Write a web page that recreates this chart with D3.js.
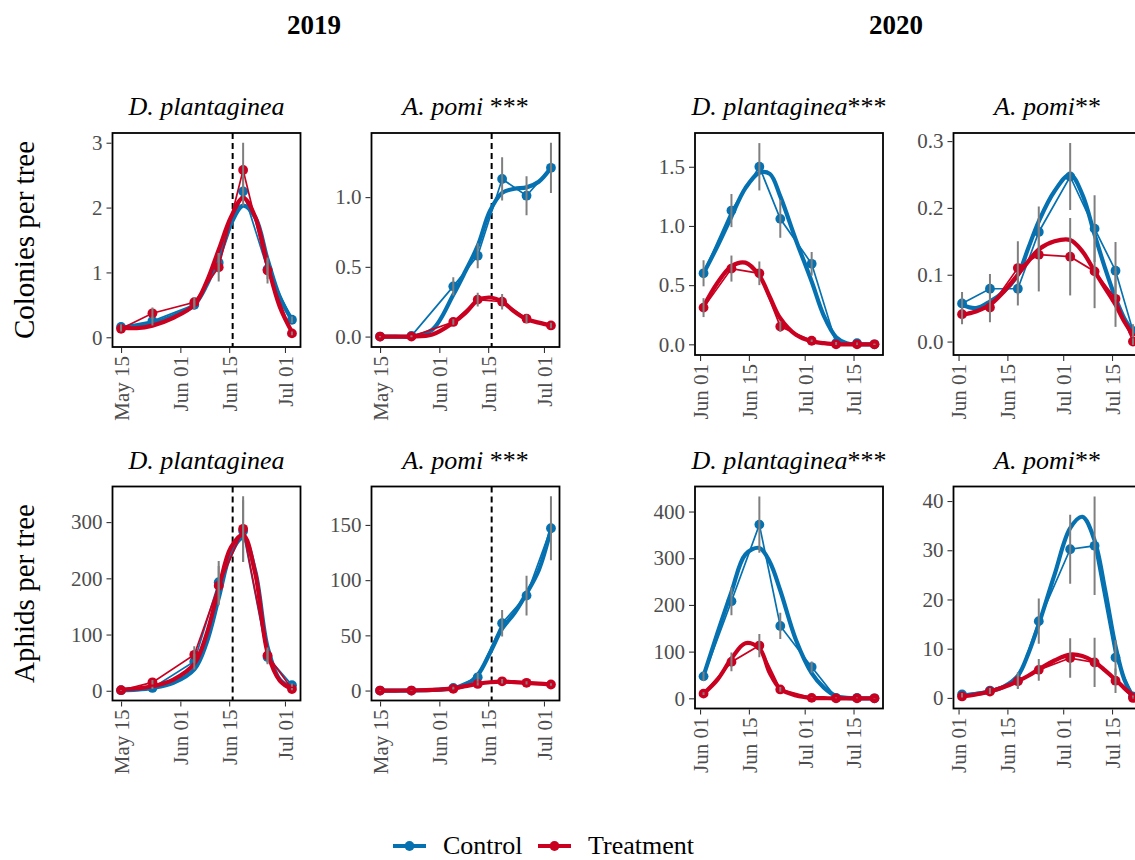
<!DOCTYPE html>
<meta charset="utf-8">
<title>Aphid colonies and aphids per tree, 2019–2020</title>
<style>
  html, body { margin: 0; background: #fff; }
  svg {
    display: block;
    font-family: 'Liberation Serif', 'Times New Roman', serif;
  }
  .axis text {
    fill: #4d4d4d;
    font-size: 21px;
    font-family: 'Liberation Serif', 'Times New Roman', serif;
  }
  .axis line { stroke: #333; stroke-width: 1.1px; }
  .axis .domain { display: none; }
  .frame { fill: none; stroke: #000; stroke-width: 1.8px; }
  .fit { fill: none; stroke-width: 4.2px; stroke-linecap: round; }
  .trace { fill: none; stroke-width: 1.7px; }
  .err { stroke: #7f7f7f; stroke-width: 2px; }
  .cut { stroke: #000; stroke-width: 2px; stroke-dasharray: 6 4; }
  .strip { font-size: 26px; text-anchor: middle; }
  .ytitle { font-size: 29px; text-anchor: middle; }
  .year { font-size: 27px; font-weight: bold; text-anchor: middle; }
  .legend text {
    font-size: 26px;
    font-family: 'Liberation Serif', 'Times New Roman', serif;
  }
</style>
<svg width="1135" height="860"></svg>
<script src="https://cdn.jsdelivr.net/npm/d3@7"></script>
<script>
  /* global d3 */
  'use strict'

  // sampling dates
  const dates2019 = ['2019-05-15', '2019-05-24', '2019-06-05', '2019-06-12',
    '2019-06-19', '2019-06-26', '2019-07-03']
  const dates2020 = ['2020-06-02', '2020-06-10', '2020-06-18', '2020-06-24',
    '2020-07-03', '2020-07-10', '2020-07-16', '2020-07-21']
  // days after the first sampling date where the smoothed curves were read
  const fitDays2019 = [0, 4.5, 9, 15, 21, 24.5, 28, 31.5, 35, 38.5, 42, 45.5, 49]
  const fitDays2020 = [0, 4, 8, 12, 16, 19, 22, 26.5, 31, 34.5, 38, 41, 44, 46.5, 49]
  const ticks2019 = ['2019-05-15', '2019-06-01', '2019-06-15', '2019-07-01']
  const ticks2020 = ['2020-06-01', '2020-06-15', '2020-07-01', '2020-07-15']
  const release2019 = '2019-06-16'  // dashed line

  const groups = ['Control', 'Treatment']
  const species = ['D. plantaginea', 'A. pomi']
  const stars = ['', ' ***', '***', '**']  // per column
  const rowTitles = ['Colonies per tree', 'Aphids per tree']
  const years = ['2019', '2020']

  // colonies, 2019, D. plantaginea
  const colDp19Ctrl = [0.16, 0.25, 0.5, 1.15, 2.25, 1.05, 0.27]
  const colDp19CtrlSe = [0.04, 0.07, 0.07, 0.15, 0.22, 0.15, 0.05]
  const colDp19CtrlFit = [0.15, 0.17, 0.22, 0.33, 0.5, 0.8, 1.25, 1.75, 2.03, 1.85, 1.2, 0.62, 0.27]
  const colDp19Trt = [0.13, 0.37, 0.54, 1.08, 2.58, 1.03, 0.06]
  const colDp19TrtSe = [0.04, 0.09, 0.08, 0.22, 0.42, 0.2, 0.03]
  const colDp19TrtFit = [0.15, 0.14, 0.18, 0.3, 0.5, 0.85, 1.35, 1.85, 2.15, 1.85, 1.12, 0.47, 0.08]
  // colonies, 2019, A. pomi
  const colAp19Ctrl = [0, 0.005, 0.36, 0.58, 1.13, 1.01, 1.21]
  const colAp19CtrlSe = [0.005, 0.005, 0.065, 0.09, 0.155, 0.14, 0.18]
  const colAp19CtrlFit = [0, 0, 0, 0.05, 0.3, 0.47, 0.65, 0.9, 1.03, 1.06, 1.07, 1.11, 1.21]
  const colAp19Trt = [0, 0, 0.105, 0.265, 0.25, 0.128, 0.08]
  const colAp19TrtSe = [0.005, 0.005, 0.02, 0.05, 0.055, 0.03, 0.02]
  const colAp19TrtFit = [0, 0, 0, 0.015, 0.1, 0.17, 0.26, 0.28, 0.25, 0.18, 0.125, 0.1, 0.08]
  // colonies, 2020, D. plantaginea
  const colDp20Ctrl = [0.6, 1.13, 1.5, 1.06, 0.68, 0.01, 0.01, 0]
  const colDp20CtrlSe = [0.11, 0.14, 0.2, 0.16, 0.1, 0.01, 0.005, 0.005]
  const colDp20CtrlFit = [0.6, 0.83, 1.08, 1.32, 1.45, 1.44, 1.25, 0.88, 0.53, 0.24, 0.06, 0.01, 0, 0, 0]
  const colDp20Trt = [0.31, 0.64, 0.6, 0.15, 0.03, 0, 0, 0]
  const colDp20TrtSe = [0.08, 0.11, 0.1, 0.045, 0.01, 0.005, 0.005, 0.005]
  const colDp20TrtFit = [0.32, 0.52, 0.66, 0.69, 0.58, 0.4, 0.22, 0.08, 0.025, 0.01, 0, 0, 0, 0, 0]
  // colonies, 2020, A. pomi
  const colAp20Ctrl = [0.057, 0.079, 0.079, 0.164, 0.247, 0.169, 0.106, 0.016]
  const colAp20CtrlSe = [0.017, 0.022, 0.025, 0.038, 0.05, 0.05, 0.043, 0.01]
  const colAp20CtrlFit = [0.055, 0.05, 0.06, 0.075, 0.1, 0.14, 0.18, 0.225, 0.25, 0.22, 0.16, 0.11, 0.065, 0.035, 0.015]
  const colAp20Trt = [0.041, 0.051, 0.11, 0.13, 0.127, 0.105, 0.064, 0]
  const colAp20TrtSe = [0.015, 0.022, 0.04, 0.055, 0.058, 0.055, 0.042, 0.005]
  const colAp20TrtFit = [0.04, 0.045, 0.055, 0.075, 0.1, 0.12, 0.138, 0.15, 0.152, 0.135, 0.105, 0.08, 0.055, 0.03, 0.01]
  // aphids, 2019, D. plantaginea
  const aphDp19Ctrl = [1, 5, 52, 193, 284, 60, 10]
  const aphDp19CtrlSe = [0.5, 2, 14, 38, 55, 13, 3]
  const aphDp19CtrlFit = [1, 2, 5, 14, 38, 85, 165, 245, 272, 212, 78, 20, 5]
  const aphDp19Trt = [1, 15, 64, 187, 288, 63, 3]
  const aphDp19TrtSe = [0.5, 4, 15, 35, 58, 14, 2]
  const aphDp19TrtFit = [2, 4, 8, 20, 48, 100, 182, 255, 277, 208, 68, 18, 3]
  // aphids, 2019, A. pomi
  const aphAp19Ctrl = [0, 0, 2.4, 12, 61, 86, 147]
  const aphAp19CtrlSe = [0.2, 0.2, 1, 4, 12, 18, 29]
  const aphAp19CtrlFit = [0, 0, 0, 0.5, 2, 5, 14, 34, 56, 70, 88, 109, 146]
  const aphAp19Trt = [0, 0, 1.5, 6, 8.4, 7, 5.5]
  const aphAp19TrtSe = [0.1, 0.1, 0.6, 1.5, 2, 1.5, 1.2]
  const aphAp19TrtFit = [0, 0, 0.2, 0.6, 2, 4, 6, 7.5, 8, 7.6, 7, 6.3, 5.5]
  // aphids, 2020, D. plantaginea
  const aphDp20Ctrl = [47, 208, 372, 155, 67, 1, 1, 0]
  const aphDp20CtrlSe = [10, 30, 60, 28, 12, 0.5, 0.5, 0.2]
  const aphDp20CtrlFit = [48, 140, 228, 308, 322, 292, 231, 125, 54, 23, 5, 1, 0, 0, 0]
  const aphDp20Trt = [10, 78, 113, 19, 1, 0, 0, 0]
  const aphDp20TrtSe = [3, 20, 25, 5, 0.5, 0.2, 0.2, 0.2]
  const aphDp20TrtFit = [10, 40, 85, 118, 107, 54, 20, 6, 1, 0.3, 0, 0, 0, 0, 0]
  // aphids, 2020, A. pomi
  const aphAp20Ctrl = [0.7, 1.5, 3.5, 15.6, 30.2, 30.9, 8.2, 0.3]
  const aphAp20CtrlSe = [0.3, 0.5, 1.7, 4.6, 7, 10, 3.5, 0.2]
  const aphAp20CtrlFit = [0.5, 0.8, 1.3, 2.3, 4.5, 9, 15, 25, 34.5, 36.8, 32, 22, 10.5, 3.8, 0.3]
  const aphAp20Trt = [0.3, 1.3, 3.4, 5.7, 8.1, 7.2, 3.5, 0]
  const aphAp20TrtSe = [0.2, 0.5, 1.5, 2.2, 4, 5, 2.5, 0.1]
  const aphAp20TrtFit = [0.3, 0.7, 1.3, 2.2, 3.4, 4.5, 5.8, 7.6, 8.8, 8.5, 7.3, 5.6, 3.7, 2, 0.5]

  // y axis ticks per panel (row-major)
  const yTicks = [
    [0, 1, 2, 3], [0, 0.5, 1], [0, 0.5, 1, 1.5], [0, 0.1, 0.2, 0.3],
    [0, 100, 200, 300], [0, 50, 100, 150], [0, 100, 200, 300, 400], [0, 10, 20, 30, 40],
  ]

  const colors = { Control: '#0571b0', Treatment: '#ca0020' }
  const parse = d3.utcParse('%Y-%m-%d')
  const dayMs = 864e5

  function series(dates, fitDays, mean, se, fit) {
    const t0 = parse(dates[0]).getTime()
    return {
      pts: dates.map((d, i) => ({ date: parse(d), y: mean[i], se: se[i] })),
      fit: fitDays.map((d, i) => ({ date: new Date(t0 + d * dayMs), y: fit[i] })),
    }
  }

  const panels = [
    { row: 0, col: 0, year: 0, sp: 0, data: [
      series(dates2019, fitDays2019, colDp19Ctrl, colDp19CtrlSe, colDp19CtrlFit),
      series(dates2019, fitDays2019, colDp19Trt, colDp19TrtSe, colDp19TrtFit)] },
    { row: 0, col: 1, year: 0, sp: 1, data: [
      series(dates2019, fitDays2019, colAp19Ctrl, colAp19CtrlSe, colAp19CtrlFit),
      series(dates2019, fitDays2019, colAp19Trt, colAp19TrtSe, colAp19TrtFit)] },
    { row: 0, col: 2, year: 1, sp: 0, data: [
      series(dates2020, fitDays2020, colDp20Ctrl, colDp20CtrlSe, colDp20CtrlFit),
      series(dates2020, fitDays2020, colDp20Trt, colDp20TrtSe, colDp20TrtFit)] },
    { row: 0, col: 3, year: 1, sp: 1, data: [
      series(dates2020, fitDays2020, colAp20Ctrl, colAp20CtrlSe, colAp20CtrlFit),
      series(dates2020, fitDays2020, colAp20Trt, colAp20TrtSe, colAp20TrtFit)] },
    { row: 1, col: 0, year: 0, sp: 0, data: [
      series(dates2019, fitDays2019, aphDp19Ctrl, aphDp19CtrlSe, aphDp19CtrlFit),
      series(dates2019, fitDays2019, aphDp19Trt, aphDp19TrtSe, aphDp19TrtFit)] },
    { row: 1, col: 1, year: 0, sp: 1, data: [
      series(dates2019, fitDays2019, aphAp19Ctrl, aphAp19CtrlSe, aphAp19CtrlFit),
      series(dates2019, fitDays2019, aphAp19Trt, aphAp19TrtSe, aphAp19TrtFit)] },
    { row: 1, col: 2, year: 1, sp: 0, data: [
      series(dates2020, fitDays2020, aphDp20Ctrl, aphDp20CtrlSe, aphDp20CtrlFit),
      series(dates2020, fitDays2020, aphDp20Trt, aphDp20TrtSe, aphDp20TrtFit)] },
    { row: 1, col: 3, year: 1, sp: 1, data: [
      series(dates2020, fitDays2020, aphAp20Ctrl, aphAp20CtrlSe, aphAp20CtrlFit),
      series(dates2020, fitDays2020, aphAp20Trt, aphAp20TrtSe, aphAp20TrtFit)] },
  ]

  // layout (px)
  const colX = [112.5, 371.5, 695, 953.5]
  const rowY = [133, 486.5]
  const panelW = 188
  const panelH = [214, 222]  // 2019 labels are longer, so its panels are shorter

  const svg = d3.select('svg')

  // ggplot-like 5% expansion of a range
  function expand([a, b], f = 0.05) {
    const d = (b - a) * f
    return [a - d, b + d]
  }

  panels.forEach((p, k) => {
    const x0 = colX[p.col], y0 = rowY[p.row]
    const h = panelH[p.year]
    const dates = p.year ? dates2020 : dates2019
    const xt = expand(d3.extent(dates, d => parse(d).getTime()))
    const x = d3.scaleUtc().domain(xt).range([x0, x0 + panelW])
    const lo = d3.min(p.data, s => d3.min(s.pts, d => Math.min(d.y - d.se, 0)))
    const hi = d3.max(p.data, s => d3.max([
      d3.max(s.pts, d => d.y + d.se), d3.max(s.fit, d => d.y)]))
    const y = d3.scaleLinear().domain(expand([lo, hi])).range([y0 + h, y0])

    const g = svg.append('g')
    const clip = `clip${k}`
    g.append('clipPath').attr('id', clip)
      .append('rect').attr('x', x0).attr('y', y0).attr('width', panelW).attr('height', h)
    const body = g.append('g').attr('clip-path', `url(#${clip})`)

    if (p.year === 0) {
      body.append('line').classed('cut', true)
        .attr('x1', x(parse(release2019))).attr('x2', x(parse(release2019)))
        .attr('y1', y0).attr('y2', y0 + h)
    }

    p.data.forEach((s, i) => {
      const c = colors[groups[i]]
      body.append('path').classed('fit', true).attr('stroke', c)
        .attr('d', d3.line().curve(d3.curveCatmullRom.alpha(0.5))
          .x(d => x(d.date)).y(d => y(d.y))(s.fit))
      body.append('path').classed('trace', true).attr('stroke', c)
        .attr('d', d3.line().x(d => x(d.date)).y(d => y(d.y))(s.pts))
      body.selectAll(null).data(s.pts).enter().append('circle')
        .attr('cx', d => x(d.date)).attr('cy', d => y(d.y)).attr('r', 4.9)
        .attr('fill', c)
    })
    p.data.forEach(s => {
      body.selectAll(null).data(s.pts).enter().append('line').classed('err', true)
        .attr('x1', d => x(d.date)).attr('x2', d => x(d.date))
        .attr('y1', d => y(d.y - d.se)).attr('y2', d => y(d.y + d.se))
    })

    g.append('rect').classed('frame', true)
      .attr('x', x0).attr('y', y0).attr('width', panelW).attr('height', h)

    const ticks = yTicks[k]
    const fmt = ticks.some(v => v % 1) ? d3.format('.1f') : d3.format('d')
    g.append('g').classed('axis', true)
      .attr('transform', `translate(${x0 - 1},0)`)
      .call(d3.axisLeft(y).tickValues(ticks).tickFormat(fmt).tickSize(5).tickPadding(4))

    const xTicks = (p.year ? ticks2020 : ticks2019).map(parse)
    g.append('g').classed('axis', true)
      .attr('transform', `translate(0,${y0 + h + 1})`)
      .call(d3.axisBottom(x).tickValues(xTicks)
        .tickFormat(d3.utcFormat('%b %d')).tickSize(5))
      .selectAll('text')
      .attr('transform', 'rotate(-90)')
      .attr('text-anchor', 'end')
      .attr('x', -8).attr('y', 0).attr('dy', '0.35em')

    const title = g.append('text').classed('strip', true)
      .attr('x', x0 + panelW / 2).attr('y', y0 - 18)
    title.append('tspan').attr('font-style', 'italic').text(species[p.sp])
    if (stars[p.col]) title.append('tspan').text(stars[p.col])
  })

  // year headings
  years.forEach((yr, i) => {
    svg.append('text').classed('year', true)
      .attr('x', i ? 896 : 314).attr('y', 34).text(yr)
  })

  // row titles
  rowTitles.forEach((t, i) => {
    const cy = rowY[i] + panelH[0] / 2
    svg.append('text').classed('ytitle', true)
      .attr('transform', `translate(33.5,${cy}) rotate(-90)`).text(t)
  })

  // legend
  const legend = svg.append('g').classed('legend', true)
  const lx = [393, 538]
  groups.forEach((gname, i) => {
    const item = legend.append('g').attr('transform', `translate(${lx[i]},846)`)
    item.append('line').attr('x1', 0).attr('x2', 33).attr('stroke', colors[gname])
      .attr('stroke-width', 4.2)
    item.append('circle').attr('cx', 16.5).attr('r', 4.9).attr('fill', colors[gname])
    item.append('text').attr('x', 50).attr('y', 8).text(gname)
  })
</script>
